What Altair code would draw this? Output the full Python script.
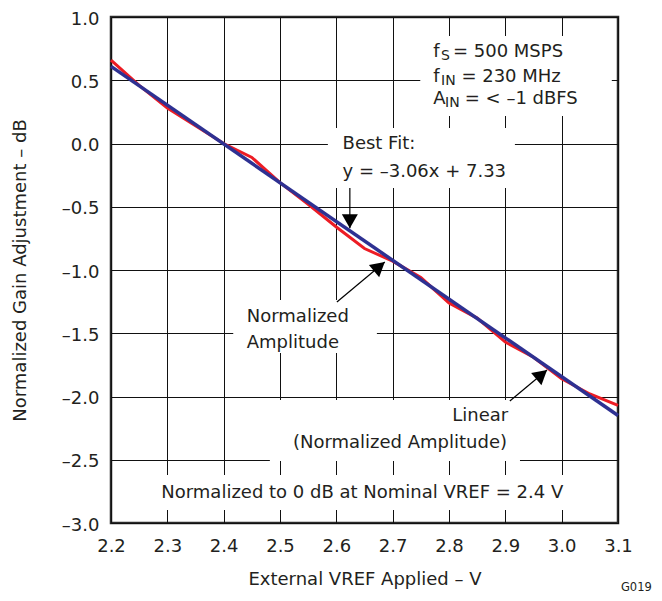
import altair as alt
import pandas as pd

# ---- data ----
vref = [2.2, 2.25, 2.3, 2.35, 2.4, 2.45, 2.5, 2.55, 2.6, 2.65, 2.7, 2.75,
        2.8, 2.85, 2.9, 2.95, 3.0, 3.05, 3.1]
norm_amp = [0.66, 0.46, 0.28, 0.14, 0.0, -0.11, -0.31, -0.48, -0.66, -0.83,
            -0.93, -1.06, -1.26, -1.38, -1.57, -1.69, -1.86, -1.98, -2.07]
fit_vref = [2.2, 3.1]
fit_gain = [0.61, -2.15]

x_ticks = [2.2, 2.3, 2.4, 2.5, 2.6, 2.7, 2.8, 2.9, 3.0, 3.1]
y_ticks = [1.0, 0.5, 0.0, -0.5, -1.0, -1.5, -2.0, -2.5, -3.0]

# ---- annotations (in data units) ----
box_x1 = [2.749, 2.585, 2.417, 2.482, 2.266]
box_x2 = [3.089, 2.917, 2.672, 2.926, 3.022]
box_y1 = [0.850, 0.123, -1.237, -2.028, -2.621]
box_y2 = [0.217, -0.352, -1.656, -2.510, -2.897]

left_txt = ["Best Fit:", "y = \u20133.06x + 7.33", "Normalized", "Amplitude",
            "f", "= 500 MSPS", "f", "= 230 MHz", "A", "= < \u20131 dBFS"]
left_x = [2.611, 2.611, 2.441, 2.441, 2.772, 2.807, 2.772, 2.822, 2.772, 2.828]
left_y = [0.0, -0.225, -1.369, -1.575, 0.727, 0.727, 0.526, 0.526, 0.352, 0.352]

sub_txt = ["S", "IN", "IN"]
sub_x = [2.786, 2.786, 2.793]
sub_y = [0.695, 0.494, 0.320]

right_txt = ["Linear", "(Normalized Amplitude)"]
right_x = [2.905, 2.903]
right_y = [-2.154, -2.370]

center_txt = ["Normalized to 0 dB at Nominal VREF = 2.4 V"]
center_x = [2.646]
center_y = [-2.765]

arrow_x1 = [2.624, 2.601, 2.908]
arrow_y1 = [-0.352, -1.253, -2.036]
arrow_x2 = [2.624, 2.686, 2.974]
arrow_y2 = [-0.670, -0.937, -1.791]
arrow_ang = [180, 50, 50]

FONT = "DejaVu Sans"
TXT = "#231f20"
RED = "#ed1c24"
BLUE = "#2e3192"

xs = alt.Scale(domain=[2.2, 3.1], nice=False, zero=False)
ys = alt.Scale(domain=[-3.0, 1.0], nice=False, zero=False)

y_label_expr = "(datum.value < 0 ? '\u2013' : '') + format(abs(datum.value), '.1f')"

x_axis = alt.Axis(values=x_ticks, format=".1f", title="External VREF Applied \u2013 V",
                  grid=True, ticks=False, tickSize=0, domain=False,
                  labelPadding=14, labelFlush=False, labelOverlap=False,
                  titleY=56, titleBaseline="middle")
y_axis = alt.Axis(values=y_ticks, labelExpr=y_label_expr,
                  title="Normalized Gain Adjustment \u2013 dB",
                  grid=True, ticks=False, tickSize=0, domain=False,
                  labelPadding=12, labelFlush=False, labelOverlap=False,
                  labelOffset=2,
                  titleX=-91, titleY=253, titleBaseline="middle")


def X(f):
    return alt.X(f, type="quantitative", scale=xs, axis=x_axis)


def Y(f):
    return alt.Y(f, type="quantitative", scale=ys, axis=y_axis)


curve = pd.DataFrame({"v": vref, "g": norm_amp})
fit = pd.DataFrame({"v": fit_vref, "g": fit_gain})
boxes = pd.DataFrame({"x": box_x1, "x2": box_x2, "y": box_y1, "y2": box_y2})
ltxt = pd.DataFrame({"x": left_x, "y": left_y, "t": left_txt})
stxt = pd.DataFrame({"x": sub_x, "y": sub_y, "t": sub_txt})
rtxt = pd.DataFrame({"x": right_x, "y": right_y, "t": right_txt})
ctxt = pd.DataFrame({"x": center_x, "y": center_y, "t": center_txt})
arr = pd.DataFrame({"x": arrow_x1, "y": arrow_y1, "x2": arrow_x2, "y2": arrow_y2, "a": arrow_ang})
gtxt = pd.DataFrame({"x": [3.16], "y": [-3.514], "t": ["G019"]})

rects = alt.Chart(boxes).mark_rect(color="white").encode(
    x=X("x"), x2="x2", y=Y("y"), y2="y2")

red_line = alt.Chart(curve).mark_line(color=RED, strokeWidth=3).encode(
    x=X("v"), y=Y("g"))

fit_line = alt.Chart(fit).mark_line(color=BLUE, strokeWidth=3.5).encode(
    x=X("v"), y=Y("g"))

left_layer = alt.Chart(ltxt).mark_text(align="left", baseline="middle", font=FONT,
                                        fontSize=18, color=TXT).encode(
    x=X("x"), y=Y("y"), text="t:N")
sub_layer = alt.Chart(stxt).mark_text(align="left", baseline="middle", font=FONT,
                                       fontSize=14, color=TXT).encode(
    x=X("x"), y=Y("y"), text="t:N")
right_layer = alt.Chart(rtxt).mark_text(align="right", baseline="middle", font=FONT,
                                         fontSize=18, color=TXT).encode(
    x=X("x"), y=Y("y"), text="t:N")
center_layer = alt.Chart(ctxt).mark_text(align="center", baseline="middle", font=FONT,
                                          fontSize=18, color=TXT).encode(
    x=X("x"), y=Y("y"), text="t:N")
g_layer = alt.Chart(gtxt).mark_text(align="right", baseline="middle", font=FONT,
                                     fontSize=11.5, color=TXT).encode(
    x=X("x"), y=Y("y"), text="t:N")

arrow_lines = alt.Chart(arr).mark_rule(color="black", strokeWidth=1.2).encode(
    x=X("x"), y=Y("y"), x2="x2", y2="y2")
arrow_heads = alt.Chart(arr).mark_point(
    shape="M0,0L-1,1.75L1,1.75Z", filled=True, color="black", opacity=1,
    size=256, strokeWidth=0).encode(
    x=X("x2"), y=Y("y2"), angle=alt.Angle("a:Q", scale=None))

chart = alt.layer(
    rects, red_line, fit_line, arrow_lines, arrow_heads,
    left_layer, sub_layer, right_layer, center_layer, g_layer,
).properties(
    width=507, height=506,
    padding={"left": 103, "top": 9, "right": 36, "bottom": 70},
    autosize=alt.AutoSizeParams(type="none"),
).configure_view(
    stroke="#2a2a2a", strokeWidth=2.5
).configure_axis(
    labelFont=FONT, titleFont=FONT, labelFontSize=18, titleFontSize=18,
    titleFontWeight="normal", labelColor=TXT, titleColor=TXT,
    gridColor="#111111", gridWidth=1, gridOpacity=1,
)

chart.save("out.html", embed_options={"renderer": "svg", "actions": False})
